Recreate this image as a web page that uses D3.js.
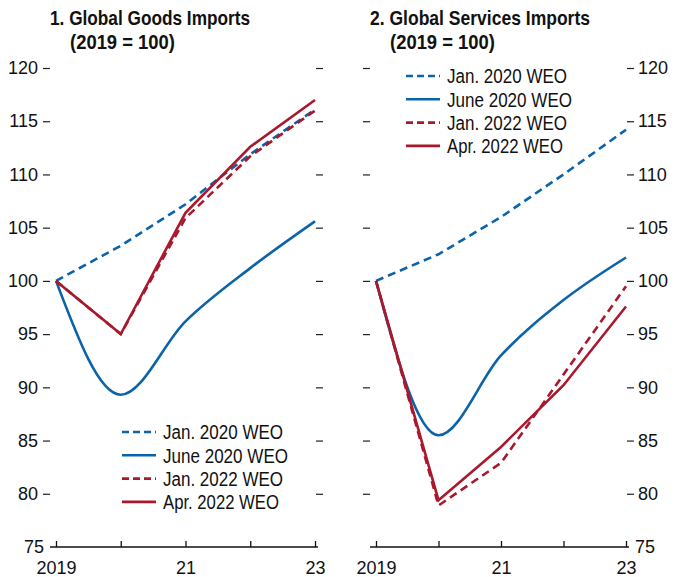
<!DOCTYPE html>
<html>
<head>
<meta charset="utf-8">
<script src="https://cdn.jsdelivr.net/npm/d3@7"></script>
<style>
  body { margin: 0; background: #fff; }
  svg { display: block; font-family: "Liberation Sans Narrow", "Arial Narrow", "Liberation Sans", sans-serif; }
</style>
</head>
<body>
<svg id="chart" width="678" height="577"></svg>
<script>
// data
var years = [2019, 2020, 2021, 2022, 2023];
var xTickLabels = ["2019", "", "21", "", "23"];
var yTicks = [75, 80, 85, 90, 95, 100, 105, 110, 115, 120];
var seriesNames = ["Jan. 2020 WEO", "June 2020 WEO", "Jan. 2022 WEO", "Apr. 2022 WEO"];

var goodsJan2020 = [100, 103.3, 107.2, 111.9, 116.1];
var goodsJun2020 = [100, 89.3, 96.2, 101.2, 105.6];
var goodsJan2022 = [100, 95.0, 105.9, 111.7, 116.0];
var goodsApr2022 = [100, 95.0, 106.4, 112.6, 117.0];

var servJan2020 = [100, 102.5, 106.0, 110.0, 114.2];
var servJun2020 = [100, 85.5, 93.0, 98.2, 102.2];
var servJan2022 = [100, 78.9, 82.9, 91.2, 99.5];
var servApr2022 = [100, 79.4, 84.4, 90.2, 97.6];

var blue = "#0b63a8",
    red = "#a8192e";

// the source uses a condensed face; squeeze the wide fallback to the same widths
var legendWidths = [120, 125, 120, 116];

var styles = [
  {color: blue, dash: "8,5", curve: d3.curveLinear},
  {color: blue, dash: null, curve: d3.curveMonotoneX},
  {color: red, dash: "8,5", curve: d3.curveLinear},
  {color: red, dash: null, curve: d3.curveLinear}
];

var svg = d3.select("#chart");

var y = d3.scaleLinear().domain([75, 120]).range([547, 68]);

function drawPanel(opt) {
  var x = d3.scaleLinear().domain([2019, 2023]).range([opt.x0, opt.x1]);
  var g = svg.append("g");

  // title
  g.append("text")
      .attr("x", opt.titleX)
      .attr("y", 25)
      .style("font-weight", "bold")
      .style("font-size", "21px")
      .attr("fill", "#111")
      .attr("textLength", opt.titleW)
      .attr("lengthAdjust", "spacingAndGlyphs")
      .text(opt.title);
  g.append("text")
      .attr("x", opt.titleX + 20)
      .attr("y", 49)
      .style("font-weight", "bold")
      .style("font-size", "21px")
      .attr("fill", "#111")
      .attr("textLength", 105)
      .attr("lengthAdjust", "spacingAndGlyphs")
      .text("(2019 = 100)");

  // left axis
  var left = g.append("g")
      .attr("transform", "translate(" + (opt.x0 - 6) + ",0)")
      .call(d3.axisLeft(y).tickValues(yTicks.slice(1)).tickSize(7).tickPadding(5)
        .tickFormat(opt.labelLeft ? d3.format("d") : ""));
  left.select(".domain").remove();

  var right = g.append("g")
      .attr("transform", "translate(" + (opt.x1 + 1) + ",0)")
      .call(d3.axisRight(y).tickValues(yTicks.slice(1)).tickSize(7).tickPadding(4)
        .tickFormat(opt.labelLeft ? "" : d3.format("d")));
  right.select(".domain").remove();

  [left, right].forEach(function(a) {
    a.selectAll("line").attr("stroke", "#222").attr("stroke-width", 1.2);
    a.selectAll("text").style("font-size", "18px").attr("fill", "#111");
  });

  // 75 label at the baseline corner
  g.append("text")
      .attr("x", opt.labelLeft ? opt.x0 - 12 : opt.x1 + 9)
      .attr("y", y(75))
      .attr("dy", "0.35em")
      .attr("text-anchor", opt.labelLeft ? "end" : "start")
      .style("font-size", "18px")
      .attr("fill", "#111")
      .text(yTicks[0]);

  // bottom axis
  g.append("line")
      .attr("x1", opt.x0 - 6).attr("x2", opt.x1 + 3)
      .attr("y1", y(75)).attr("y2", y(75))
      .attr("stroke", "#111").attr("stroke-width", 1.5);

  var bottom = g.append("g")
      .attr("transform", "translate(0," + y(75) + ")")
      .call(d3.axisBottom(x).tickValues(years).tickSize(-6).tickPadding(14)
        .tickFormat(function(d, i) { return xTickLabels[i]; }));
  bottom.select(".domain").remove();
  bottom.selectAll("line").attr("stroke", "#111").attr("stroke-width", 1.3);
  bottom.selectAll("text").style("font-size", "18px").attr("fill", "#111");

  // lines
  opt.series.forEach(function(vals, i) {
    var s = styles[i];
    var line = d3.line()
        .x(function(d, j) { return x(years[j]); })
        .y(function(d) { return y(d); })
        .curve(s.curve);
    g.append("path")
        .datum(vals)
        .attr("d", line)
        .attr("fill", "none")
        .attr("stroke", s.color)
        .attr("stroke-width", 2.6)
        .attr("stroke-dasharray", s.dash);
  });

  // legend
  var leg = g.append("g").attr("transform", "translate(" + opt.legX + "," + opt.legY + ")");
  seriesNames.forEach(function(name, i) {
    var row = leg.append("g").attr("transform", "translate(0," + (i * 23.3) + ")");
    row.append("line")
        .attr("x1", 0).attr("x2", 34)
        .attr("stroke", styles[i].color)
        .attr("stroke-width", 2.6)
        .attr("stroke-dasharray", styles[i].dash ? "7,4" : null);
    row.append("text")
        .attr("x", 41)
        .attr("dy", "0.36em")
        .style("font-size", "20px")
        .attr("fill", "#111")
        .attr("textLength", legendWidths[i])
        .attr("lengthAdjust", "spacingAndGlyphs")
        .text(name);
  });
}

drawPanel({
  x0: 56, x1: 315, titleX: 50, titleW: 200, title: "1. Global Goods Imports", labelLeft: true,
  legX: 122, legY: 432,
  series: [goodsJan2020, goodsJun2020, goodsJan2022, goodsApr2022]
});

drawPanel({
  x0: 376, x1: 626, titleX: 370, titleW: 220, title: "2. Global Services Imports", labelLeft: false,
  legX: 406, legY: 76,
  series: [servJan2020, servJun2020, servJan2022, servApr2022]
});
</script>
</body>
</html>
